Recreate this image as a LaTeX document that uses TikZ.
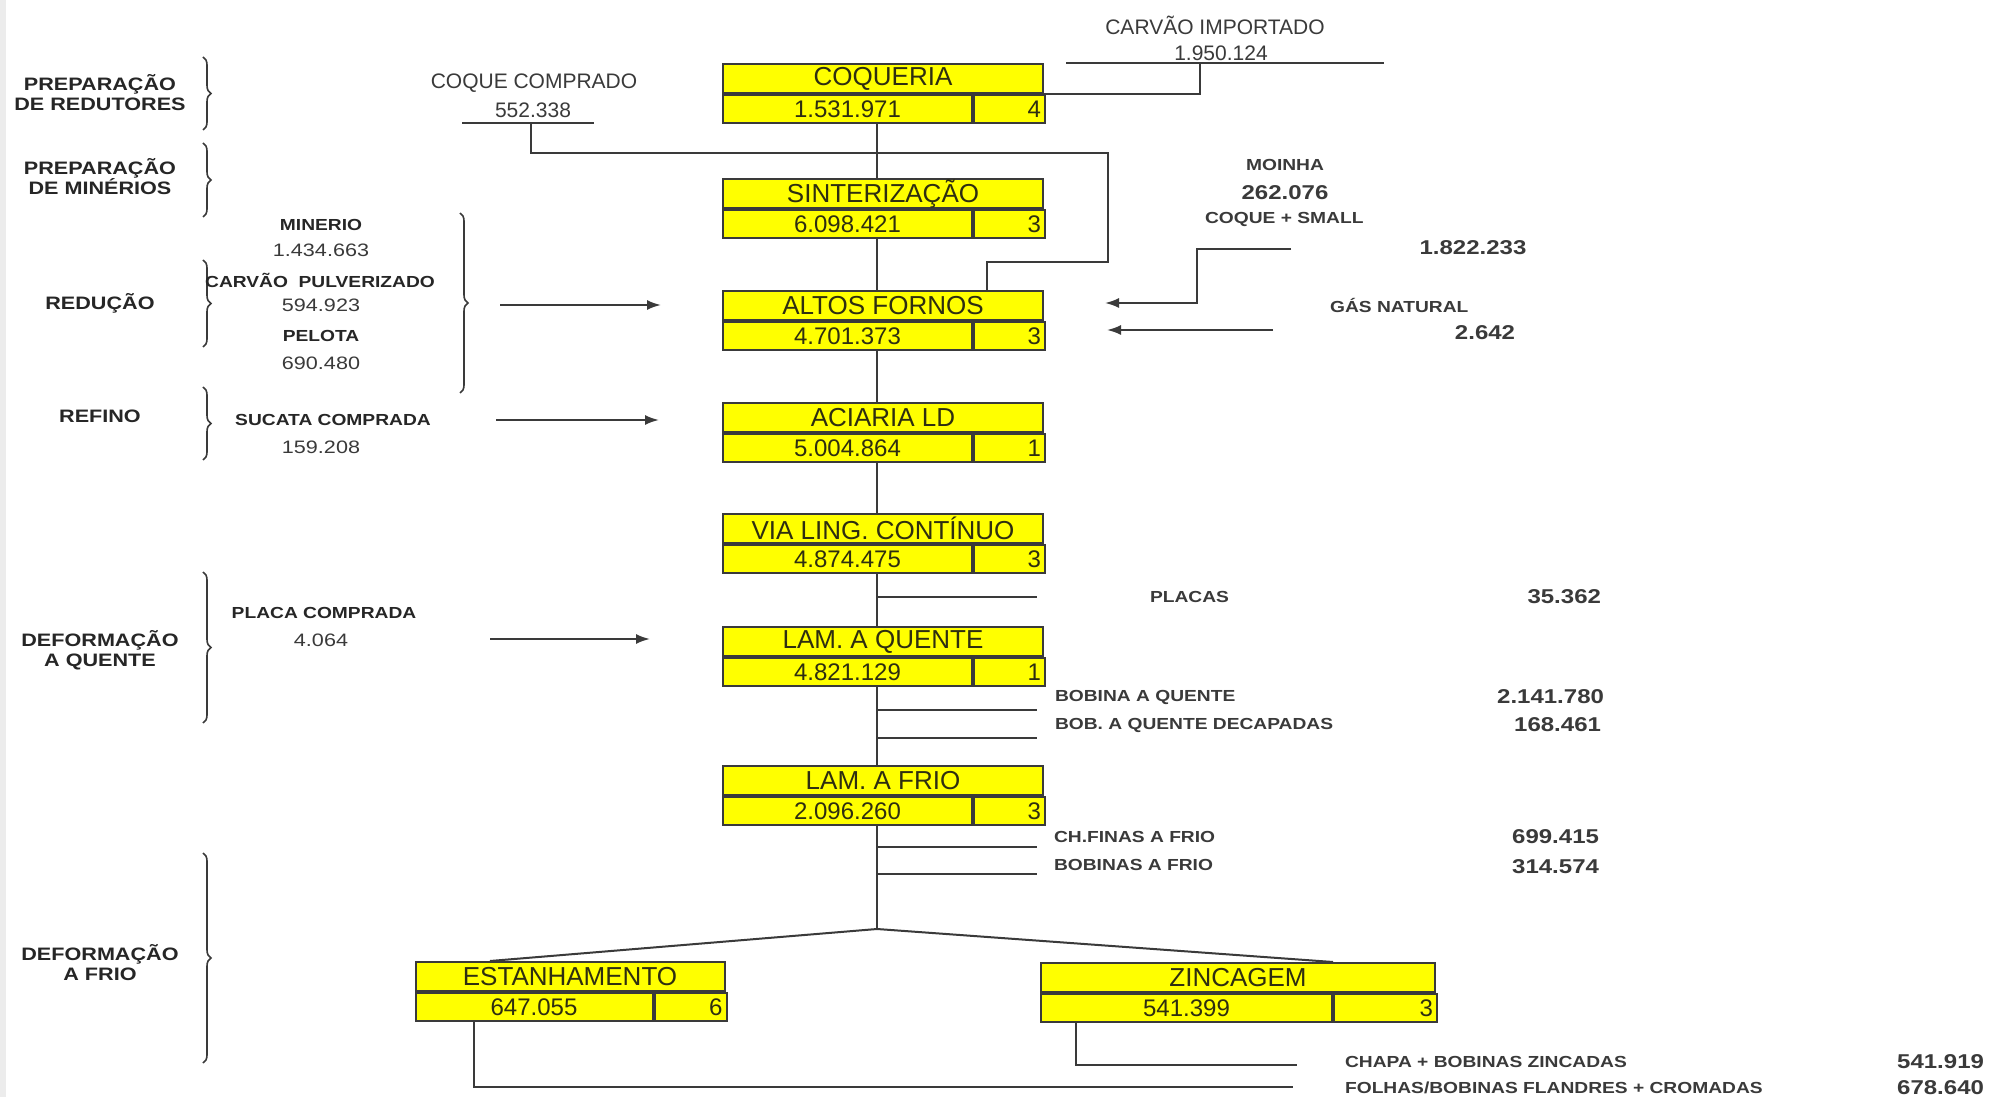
\documentclass[tikz,border=0pt]{standalone}
\usepackage{fontspec}
\setmainfont{Liberation Sans}
\newfontfamily\widefont{Liberation Sans}[FakeStretch=1.2]
\usetikzlibrary{positioning, arrows.meta, decorations.pathreplacing}
\definecolor{boxyellow}{HTML}{FFFF00}
\definecolor{boxtext}{HTML}{2E2E10}
\definecolor{inkgray}{HTML}{3A3A3A}
\tikzset{
x=0.5pt, y=-0.5pt, % one unit is one pixel of the scan, y runs down
flow/.style={draw=inkgray, line width=1pt}, % plain connectors
feed/.style={flow, -{Latex[length=7pt, width=5pt]}}, % purchased inputs
phase/.style={draw=inkgray, line width=0.8pt, decorate, decoration={brace, amplitude=4pt}},
stagetitle/.style={draw=inkgray, fill=boxyellow, line width=1pt, minimum width=160pt, minimum height=14.5pt, inner sep=0pt, anchor=north, text=boxtext, font=\fontsize{13}{13}\selectfont},
stagevalue/.style={draw=inkgray, fill=boxyellow, line width=1pt, minimum width=124.5pt, minimum height=14pt, inner sep=0pt, anchor=north west, text=boxtext, font=\fontsize{12}{12}\selectfont},
stagerank/.style={draw=inkgray, fill=boxyellow, line width=1pt, text width=31.5pt, inner xsep=2pt, inner ysep=0pt, minimum height=14pt, align=right, anchor=north west, text=boxtext, font=\fontsize{12}{12}\selectfont},
phaselabel/.style={align=center, text=black!85, font=\widefont\bfseries\fontsize{9}{10}\selectfont},
inlabel/.style={text=black!85, font=\widefont\bfseries\fontsize{8}{9}\selectfont},
inamount/.style={text=inkgray, font=\widefont\fontsize{9}{10}\selectfont},
outlabel/.style={text=inkgray, font=\widefont\bfseries\fontsize{8}{9}\selectfont},
outamount/.style={text=inkgray, font=\widefont\bfseries\fontsize{10}{11}\selectfont},
buylabel/.style={text=inkgray, font=\fontsize{10.5}{12}\selectfont},
}

\begin{document}
\begin{tikzpicture}
\fill[white] (0,0) rectangle (1995,1097);
\fill[gray!15] (0,0) rectangle (6,1097);

% main line through the plant
\coordinate (spinetop) at (877,123);
\coordinate (apex) at (877,929);
\draw[flow] (spinetop) -- (apex);

\foreach \id/\ytop/\name/\amount/\rank in {
  coq/63/COQUERIA/1.531.971/4,
  sint/178/SINTERIZAÇÃO/6.098.421/3,
  alto/290/ALTOS FORNOS/4.701.373/3,
  acia/402/ACIARIA LD/5.004.864/1,
  via/513/VIA LING. CONTÍNUO/4.874.475/3,
  lamq/626/LAM. A QUENTE/4.821.129/1,
  lamf/765/LAM. A FRIO/2.096.260/3}{
  \node[stagetitle] (\id) at (883,\ytop) {\name};
  \node[stagevalue] (\id-v) at (\id.south west) {\amount};
  \node[stagerank] (\id-r) at (\id-v.north east) {\rank};
}

% the two finishing lines
\coordinate (forkl) at (490,961);
\coordinate (forkr) at (1333,962);
\draw[flow] (forkl) -- (apex) -- (forkr);
\node[stagetitle, minimum width=154.5pt] (estan) at (570,961) {ESTANHAMENTO};
\node[stagevalue, minimum width=118.5pt] (estan-v) at (estan.south west) {647.055};
\node[stagerank, text width=32pt] (estan-r) at (estan-v.north east) {6};
\node[stagetitle, minimum width=197pt] (zinc) at (1238,962) {ZINCAGEM};
\node[stagevalue, minimum width=145.5pt] (zinc-v) at (zinc.south west) {541.399};
\node[stagerank, text width=47.5pt] (zinc-r) at (zinc-v.north east) {3};

% phases on the left
\node[phaselabel] (ph1) at (100,93) {PREPARAÇÃO\\DE REDUTORES};
\node[phaselabel] (ph2) at (100,177) {PREPARAÇÃO\\DE MINÉRIOS};
\node[phaselabel] (ph3) at (100,303) {REDUÇÃO};
\node[phaselabel] (ph4) at (100,416) {REFINO};
\node[phaselabel] (ph5) at (100,650) {DEFORMAÇÃO\\A QUENTE};
\node[phaselabel] (ph6) at (100,963) {DEFORMAÇÃO\\A FRIO};
\draw[phase] (203,57) -- (203,130);
\draw[phase] (203,143) -- (203,217);
\draw[phase] (203,260) -- (203,347);
\draw[phase] (203,387) -- (203,460);
\draw[phase] (203,572) -- (203,723);
\draw[phase] (203,853) -- (203,1063);

% purchased inputs on the left
\node[inlabel] (min) at (321,225) {MINERIO};
\node[inamount] (minv) at (321,250) {1.434.663};
\node[inlabel] (cpul) at (320,280) {CARVÃO~ PULVERIZADO};
\node[inamount] (cpulv) at (321,305) {594.923};
\node[inlabel] (pel) at (321,336) {PELOTA};
\node[inamount] (pelv) at (321,363) {690.480};
\draw[phase] (460,213) -- (460,393);
\node[inlabel] (suc) at (333,420) {SUCATA COMPRADA};
\node[inamount] (sucv) at (321,447) {159.208};
\node[inlabel] (plc) at (324,613) {PLACA COMPRADA};
\node[inamount] (plcv) at (321,640) {4.064};
\coordinate (redin) at (500,305);
\coordinate (sucin) at (496,420);
\coordinate (plcin) at (490,639);
\draw[feed] (redin) -- +(161,0);
\draw[feed] (sucin) -- +(163,0);
\draw[feed] (plcin) -- +(160,0);

% coke bought and coal imported
\node[buylabel] (cc) at (534,83) {COQUE COMPRADO};
\node[buylabel] (ccv) at (533,110) {552.338};
\coordinate (ccl) at (462,123);
\coordinate (ccr) at (594,123);
\coordinate (ccmid) at (531,123);
\coordinate (cokebend) at (1108,153);
\coordinate (cokedrop) at (987,262);
\draw[flow] (ccl) -- (ccr);
\draw[flow] (ccmid) |- (cokebend) |- (cokedrop) -- (cokedrop |- alto.north);
\node[buylabel] (ci) at (1215,25) {CARVÃO IMPORTADO};
\node[buylabel] (civ) at (1221,53) {1.950.124};
\coordinate (cil) at (1066,63);
\coordinate (cir) at (1384,63);
\coordinate (cimid) at (1200,63);
\draw[flow] (cil) -- (cir);
\draw[flow] (cimid) |- (coq.south east);

% fuels into the blast furnaces
\node[outlabel] (moi) at (1285,165) {MOINHA};
\node[outamount] (moiv) at (1285,193) {262.076};
\node[outlabel, anchor=west] (csm) at (1198,219) {COQUE + SMALL};
\node[outamount] (csmv) at (1473,248) {1.822.233};
\node[outlabel, anchor=west] (gas) at (1323,305) {GÁS NATURAL};
\node[outamount] (gasv) at (1485,333) {2.642};
\coordinate (csmin) at (1291,249);
\coordinate (csmbend) at (1197,303);
\coordinate (gasin) at (1273,330);
\draw[feed] (csmin) -| (csmbend) -- (1105,303);
\draw[feed] (gasin) -- (1107,330);

% products leaving the line
\foreach \nm/\yy in {placas/597, bqa/710, bqd/738, chf/847, bfr/874}{
  \coordinate (\nm) at (1037,\yy);
  \draw[flow] (\nm -| apex) -- (\nm);
}
\node[outlabel, anchor=west] (placast) at (1143,597) {PLACAS};
\node[outamount, anchor=east] (placasv) at (1608,597) {35.362};
\node[outlabel, anchor=west] (bqat) at (1048,697) {BOBINA A QUENTE};
\node[outamount, anchor=east] (bqav) at (1611,697) {2.141.780};
\node[outlabel, anchor=west] (bqdt) at (1048,725) {BOB. A QUENTE DECAPADAS};
\node[outamount, anchor=east] (bqdv) at (1608,725) {168.461};
\node[outlabel, anchor=west] (chft) at (1047,837) {CH.FINAS A FRIO};
\node[outamount, anchor=east] (chfv) at (1606,837) {699.415};
\node[outlabel, anchor=west] (bfrt) at (1047,865) {BOBINAS A FRIO};
\node[outamount, anchor=east] (bfrv) at (1606,867) {314.574};

\coordinate (zincbend) at (1076,1065);
\coordinate (zincend) at (1297,1065);
\coordinate (tinbend) at (474,1087);
\coordinate (tinend) at (1293,1087);
\draw[flow] (zinc-v.south -| zincbend) -- (zincbend) -- (zincend);
\draw[flow] (estan-v.south -| tinbend) -- (tinbend) -- (tinend);
\node[outlabel, anchor=west] (zinct) at (1338,1062) {CHAPA + BOBINAS ZINCADAS};
\node[outamount, anchor=east] (zincq) at (1991,1062) {541.919};
\node[outlabel, anchor=west] (tint) at (1338,1088) {FOLHAS/BOBINAS FLANDRES + CROMADAS};
\node[outamount, anchor=east] (tinq) at (1991,1088) {678.640};
\end{tikzpicture}
\end{document}
